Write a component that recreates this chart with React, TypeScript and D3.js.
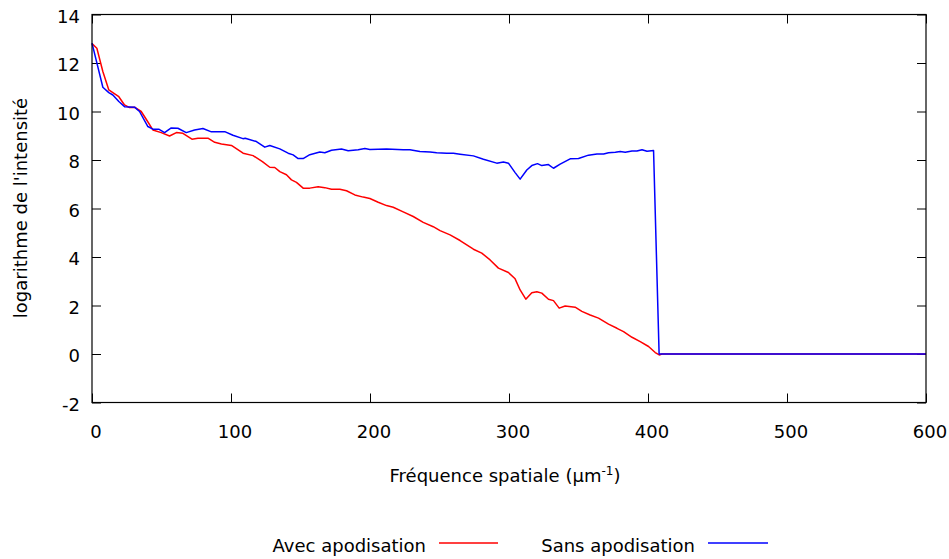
import React, { useRef, useEffect } from 'react'
import * as d3 from 'd3'

// Avec apodisation (rouge)
const freqAvec = [
  0, 3.5, 7.8, 12.1, 15, 19.3, 23.4, 27, 30.6, 35.4, 39, 43.8, 49.8, 55.8, 60.7, 65.4, 71.9, 76.2,
  83.4, 88.3, 93.1, 100.3, 108.7, 115.9, 122.6, 127.9, 131.5, 135.1, 139.9, 143.5, 147.1, 151.9,
  156.7, 162.7, 167.5, 172.3, 178.3, 183.1, 189.1, 195.1, 199.9, 205.9, 211.9, 216.7, 223.9, 231.1,
  238.3, 245.5, 250.4, 257.6, 264.8, 274.4, 280.4, 286.4, 292.4, 299.6, 304.4, 308, 312.1, 316.4,
  320, 323.6, 328.4, 332, 336.1, 340.4, 347.6, 352.4, 358.4, 364.4, 371.6, 377.7, 382.4, 388.5,
  394.4, 400.4, 405.2, 408.1, 410, 600
]
const logAvec = [
  12.8, 12.61, 11.65, 10.89, 10.78, 10.61, 10.27, 10.16, 10.18, 10.0, 9.68, 9.24, 9.13, 8.99, 9.13,
  9.1, 8.86, 8.9, 8.9, 8.73, 8.66, 8.6, 8.28, 8.18, 7.93, 7.7, 7.69, 7.52, 7.39, 7.18, 7.08, 6.84,
  6.84, 6.9, 6.86, 6.79, 6.79, 6.73, 6.56, 6.47, 6.41, 6.26, 6.12, 6.05, 5.86, 5.67, 5.43, 5.25,
  5.09, 4.91, 4.68, 4.32, 4.16, 3.88, 3.54, 3.36, 3.1, 2.64, 2.26, 2.53, 2.57, 2.51, 2.26, 2.2,
  1.89, 1.98, 1.93, 1.76, 1.61, 1.48, 1.23, 1.06, 0.92, 0.69, 0.51, 0.31, 0.06, -0.04, 0, 0
]

// Sans apodisation (bleu)
const freqSans = [
  0, 7.8, 12.1, 15, 19.3, 23.4, 30.6, 34.2, 40.2, 43.8, 48, 52.2, 57, 61.8, 67.8, 73.8, 79.8, 85.9,
  95.5, 101.4, 108.6, 110.2, 118.3, 124.3, 127.9, 135.1, 141.1, 144.7, 148.3, 151.9, 156.7, 163.9,
  167.5, 172.3, 179.5, 184.3, 191.5, 196.3, 199.9, 211.9, 223.9, 228.7, 235.9, 243.2, 248, 255.2,
  260, 264.8, 274.4, 281.6, 291.2, 296, 299.6, 304.4, 308, 312.8, 316.4, 320.5, 323.6, 328.4, 332,
  336.8, 344, 350, 357.2, 363.3, 368.1, 371.6, 376.5, 380, 383.6, 388.5, 392, 395.7, 399.3, 404,
  408, 600
]
const logSans = [
  12.82, 11.0, 10.78, 10.68, 10.41, 10.2, 10.18, 10.0, 9.38, 9.27, 9.27, 9.13, 9.32, 9.31, 9.13,
  9.24, 9.3, 9.16, 9.17, 9.02, 8.88, 8.9, 8.76, 8.53, 8.6, 8.46, 8.28, 8.21, 8.06, 8.06, 8.22, 8.33,
  8.3, 8.4, 8.45, 8.38, 8.42, 8.47, 8.43, 8.45, 8.42, 8.42, 8.35, 8.33, 8.3, 8.28, 8.28, 8.24, 8.17,
  8.03, 7.87, 7.92, 7.87, 7.48, 7.21, 7.59, 7.77, 7.85, 7.77, 7.81, 7.66, 7.83, 8.05, 8.06, 8.2,
  8.25, 8.25, 8.3, 8.32, 8.35, 8.32, 8.37, 8.37, 8.42, 8.36, 8.39, 0, 0
]

const xTicks = [0, 100, 200, 300, 400, 500, 600]
const yTicks = [-2, 0, 2, 4, 6, 8, 10, 12, 14]

const W = 949
const H = 559
const FONT = '"DejaVu Sans", Verdana, sans-serif'

export default function App() {
  const svgRef = useRef<SVGSVGElement>(null)

  useEffect(() => {
    if (!svgRef.current) return
    const svg = d3.select(svgRef.current)
    svg.selectAll('*').remove()

    const left = 92, right = 926, top = 14.5, bottom = 402.5
    const x = d3.scaleLinear().domain([0, 600]).range([left, right])
    const y = d3.scaleLinear().domain([-2, 14]).range([bottom, top])
    const plain = (d: any) => String(d) // trait d'union simple pour "-2"

    const styleAxis = (g: any) => {
      g.select('.domain').remove()
      g.selectAll('line').attr('stroke', '#000').attr('stroke-width', 1)
      g.selectAll('text').style('font-family', FONT).style('font-size', '18px').attr('fill', '#000')
    }

    // axes, ticks vers l'intérieur
    svg.append('g')
      .attr('transform', `translate(0,${bottom})`)
      .call(d3.axisBottom(x).tickValues(xTicks).tickSize(-9).tickPadding(23).tickFormat(plain))
      .call(styleAxis)
      .selectAll('text').attr('dx', 3.5)
    svg.append('g')
      .attr('transform', `translate(0,${top})`)
      .call(d3.axisTop(x).tickValues(xTicks).tickSize(-9).tickFormat(() => ''))
      .call(styleAxis)
    svg.append('g')
      .attr('transform', `translate(${left},0)`)
      .call(d3.axisLeft(y).tickValues(yTicks).tickSize(-9).tickPadding(12).tickFormat(plain))
      .call(styleAxis)
      .selectAll('text').attr('dy', '0.42em')
    svg.append('g')
      .attr('transform', `translate(${right},0)`)
      .call(d3.axisRight(y).tickValues(yTicks).tickSize(-9).tickFormat(() => ''))
      .call(styleAxis)

    // courbes
    const line = d3.line<[number, number]>().x(d => x(d[0])).y(d => y(d[1]))
    const avec: [number, number][] = freqAvec.map((f, i) => [f, logAvec[i]])
    const sans: [number, number][] = freqSans.map((f, i) => [f, logSans[i]])

    svg.append('path').datum(avec)
      .attr('d', line).attr('fill', 'none').attr('stroke', '#ff0000').attr('stroke-width', 1.5)
      .attr('stroke-linejoin', 'round')
    svg.append('path').datum(sans)
      .attr('d', line).attr('fill', 'none').attr('stroke', '#0000ff').attr('stroke-width', 1.5)
      .attr('stroke-linejoin', 'round')

    // cadre
    svg.append('rect')
      .attr('x', left).attr('y', top)
      .attr('width', right - left).attr('height', bottom - top)
      .attr('fill', 'none').attr('stroke', '#000').attr('stroke-width', 1.2)

    // titres des axes
    const xl = svg.append('text')
      .attr('x', 505).attr('y', 482)
      .attr('text-anchor', 'middle')
      .style('font-family', FONT).style('font-size', '18px')
    xl.append('tspan').text('Fréquence spatiale (µm')
    xl.append('tspan').attr('dy', -7).style('font-size', '12px').text('-1')
    xl.append('tspan').attr('dy', 7).text(')')

    svg.append('text')
      .attr('transform', `translate(27,208) rotate(-90)`)
      .attr('text-anchor', 'middle')
      .style('font-family', FONT).style('font-size', '18px')
      .text("logarithme de l'intensité")

    // légende
    const legend = [
      { label: 'Avec apodisation', color: '#ff0000', textEnd: 426, x0: 439, x1: 498 },
      { label: 'Sans apodisation', color: '#0000ff', textEnd: 695, x0: 708, x1: 768 }
    ]
    legend.forEach(l => {
      svg.append('text')
        .attr('x', l.textEnd).attr('y', 552)
        .attr('text-anchor', 'end')
        .style('font-family', FONT).style('font-size', '18px')
        .text(l.label)
      svg.append('line')
        .attr('x1', l.x0).attr('x2', l.x1).attr('y1', 543).attr('y2', 543)
        .attr('stroke', l.color).attr('stroke-width', 1.5)
    })
  }, [])

  return (
    <svg
      ref={svgRef}
      width={W}
      height={H}
      style={{ position: 'absolute', left: 0, top: 0, background: '#fff' }}
    />
  )
}
